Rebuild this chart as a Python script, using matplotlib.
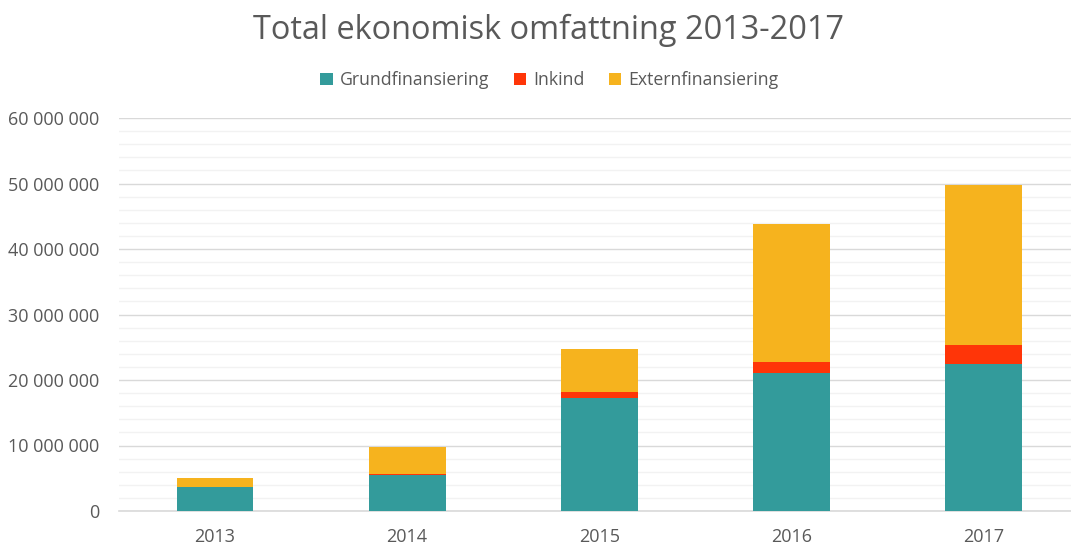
import matplotlib
matplotlib.use("Agg")
import matplotlib.pyplot as plt
from matplotlib.ticker import MultipleLocator, FuncFormatter
import numpy as np

years = ["2013", "2014", "2015", "2016", "2017"]
grund = [3.65e6, 5.5e6, 17.3e6, 21.0e6, 22.4e6]
inkind = [0.0, 0.12e6, 0.9e6, 1.8e6, 3.0e6]
extern = [1.35e6, 4.2e6, 6.5e6, 21.0e6, 24.3e6]
labels = ["Grundfinansiering", "Inkind", "Externfinansiering"]
colors = ["#339B9B", "#FF3508", "#F6B31E"]

plt.rcParams['font.family'] = ['Open Sans', 'DejaVu Sans']
W, H = 1071, 547
fig = plt.figure(figsize=(W/100, H/100), dpi=100)
ax = fig.add_axes([119/W, (H-511)/H, 1 - 119/W, (511-118)/H])

x = np.arange(len(years))
g = np.array(grund); i = np.array(inkind); e = np.array(extern)
bw = 0.4
ax.bar(x, g, bw, color=colors[0], label=labels[0], zorder=3)
ax.bar(x, i, bw, bottom=g, color=colors[1], label=labels[1], zorder=3)
ax.bar(x, e, bw, bottom=g+i, color=colors[2], label=labels[2], zorder=3)

ax.set_ylim(0, 60e6)
ax.set_xlim(-0.5, 4.5 - (1079.5-1071)/192)
ax.yaxis.set_major_locator(MultipleLocator(10e6))
ax.yaxis.set_minor_locator(MultipleLocator(2e6))
ax.yaxis.set_major_formatter(FuncFormatter(lambda v, p: f"{int(round(v)):,}".replace(",", " ")))
ax.grid(axis='y', which='major', color='#D9D9D9', lw=1.0, zorder=0)
ax.grid(axis='y', which='minor', color='#F2F2F2', lw=1.0, zorder=0)
ax.set_xticks(x)
ax.set_xticklabels(years)
for s in ['top', 'right', 'left']:
    ax.spines[s].set_visible(False)
ax.spines['bottom'].set_color('#D9D9D9')
ax.spines['bottom'].set_linewidth(1.2)
ax.tick_params(axis='both', which='both', length=0, colors='#595959', labelsize=13)
ax.tick_params(axis='y', pad=14)
ax.tick_params(axis='x', pad=12)

fig.text(0.512, 1 - 30/H, "Total ekonomisk omfattning 2013-2017", ha='center', va='center',
         fontsize=23.4, color='#595959')
leg = fig.legend(loc='center', bbox_to_anchor=(0.513, 1 - 80/H), ncol=3, frameon=False,
                 fontsize=12.7, handlelength=0.7, handleheight=0.7, columnspacing=1.4, handletextpad=0.4)
for t in leg.get_texts():
    t.set_color('#595959')

fig.savefig("out.png", dpi=100)
